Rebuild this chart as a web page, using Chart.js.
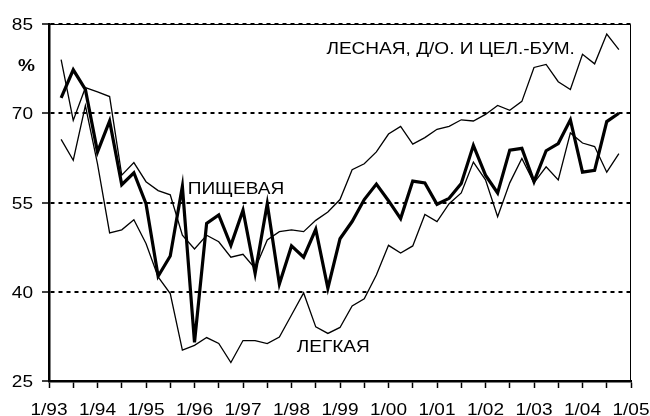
<!DOCTYPE html>
<html>
<head>
<meta charset="utf-8">
<script src="https://cdn.jsdelivr.net/npm/chart.js@4"></script>
<style>
  html, body { margin: 0; padding: 0; background: #fff; overflow: hidden; }
  canvas { display: block; }
</style>
</head>
<body>
<canvas id="chart" width="650" height="416"></canvas>
<script>
// quarterly values, first point one quarter after 1/93
var food = [72.6, 77.3, 74.0, 63.5, 68.7, 58.0, 60.0, 54.8, 42.6, 46.0, 57.7, 31.5,
  51.5, 52.9, 47.8, 53.7, 43.1, 54.8, 41.3, 47.7, 45.8, 50.5, 40.6, 48.9,
  51.8, 55.5, 58.1, 55.3, 52.3, 58.6, 58.3, 54.7, 55.7, 58.2, 64.6, 59.6,
  56.6, 63.8, 64.1, 58.5, 63.7, 64.9, 68.9, 60.1, 60.4, 68.6, 70.0];
var forest = [79.0, 68.8, 74.3, 73.6, 72.8, 59.6, 61.7, 58.5, 57.0, 56.3, 49.5, 47.2,
  49.5, 48.4, 45.8, 46.3, 43.9, 48.7, 50.1, 50.4, 50.1, 52.0, 53.4, 55.5,
  60.5, 61.5, 63.5, 66.5, 67.8, 64.8, 65.9, 67.3, 67.8, 68.9, 68.7, 69.8,
  71.3, 70.5, 72.0, 77.7, 78.2, 75.3, 74.0, 79.9, 78.3, 83.3, 80.7];
var light = [65.6, 62.1, 71.3, 61.5, 49.9, 50.4, 52.1, 48.1, 42.5, 39.7, 30.2, 31.0,
  32.3, 31.3, 28.1, 31.8, 31.8, 31.3, 32.4, 36.1, 39.8, 34.1, 33.0, 34.0,
  37.6, 38.8, 42.8, 47.8, 46.5, 47.7, 53.0, 51.8, 54.8, 56.6, 61.8, 58.8,
  52.6, 58.3, 62.4, 58.3, 61.0, 58.8, 66.7, 65.0, 64.4, 60.1, 63.2];
var yearLabels = ["1/93", "1/94", "1/95", "1/96", "1/97", "1/98", "1/99",
  "1/00", "1/01", "1/02", "1/03", "1/04", "1/05"];
var yTicks = [25, 40, 55, 70, 85];

var FONT = "'Liberation Sans', Arial, sans-serif";
var STRETCH = 1.12; // the original text is a bit wider than plain Arial

function toPoints(arr) {
  return arr.map(function (v, i) { return { x: i + 1, y: v }; });
}

function txt(ctx, s, x, y, align, bold) {
  ctx.save();
  ctx.font = (bold ? "bold " : "") + "17px " + FONT;
  ctx.fillStyle = "#000";
  ctx.textBaseline = "alphabetic";
  var w = ctx.measureText(s).width * STRETCH;
  if (align === "center") x -= w / 2;
  if (align === "right") x -= w;
  ctx.translate(x, y);
  ctx.scale(STRETCH, 1);
  ctx.fillText(s, 0, 0);
  ctx.restore();
}

// frame, tick labels and series names
var labelsPlugin = {
  id: "labels",
  afterDraw: function (chart) {
    var ctx = chart.ctx;
    var a = chart.chartArea;
    var xs = chart.scales.x, ys = chart.scales.y;
    ctx.save();
    ctx.strokeStyle = "#000";
    ctx.lineWidth = 1;
    ctx.beginPath();
    ctx.moveTo(a.left, a.top + 0.5);
    ctx.lineTo(a.right - 0.5, a.top + 0.5);
    ctx.lineTo(a.right - 0.5, a.bottom);
    ctx.stroke();
    ctx.restore();

    ys.ticks.forEach(function (t) {
      txt(ctx, String(t.value), a.left - 16, ys.getPixelForValue(t.value) + 6.2, "right");
    });
    xs.ticks.forEach(function (t) {
      if (t.value % 4 === 0) {
        txt(ctx, yearLabels[t.value / 4], xs.getPixelForValue(t.value), 415, "center");
      }
    });

    txt(ctx, "ЛЕСНАЯ, Д/О. И ЦЕЛ.-БУМ.", xs.getPixelForValue(22.88), ys.getPixelForValue(80.0), "left");
    txt(ctx, "ПИЩЕВАЯ", xs.getPixelForValue(11.44), ys.getPixelForValue(56.4), "left");
    txt(ctx, "ЛЕГКАЯ", xs.getPixelForValue(20.43), ys.getPixelForValue(29.9), "left");
    txt(ctx, "%", a.left - 31, ys.getPixelForValue(78.3) + 7.5, "left", true);
  }
};

new Chart(document.getElementById("chart"), {
  type: "line",
  data: {
    datasets: [
      { label: "ПИЩЕВАЯ", data: toPoints(food), borderColor: "#000", borderWidth: 3.2 },
      { label: "ЛЕСНАЯ, Д/О. И ЦЕЛ.-БУМ.", data: toPoints(forest), borderColor: "#000", borderWidth: 1.3 },
      { label: "ЛЕГКАЯ", data: toPoints(light), borderColor: "#000", borderWidth: 1.3 }
    ]
  },
  options: {
    responsive: false,
    animation: false,
    layout: { padding: { top: 24, right: 19, left: 0, bottom: 0 } },
    elements: {
      point: { radius: 0 },
      line: { tension: 0, borderJoinStyle: "miter" }
    },
    plugins: {
      legend: { display: false },
      tooltip: { enabled: false }
    },
    scales: {
      x: {
        type: "linear",
        min: 0,
        max: 48,
        afterFit: function (s) { s.height = 35; },
        afterBuildTicks: function (s) {
          var t = [];
          for (var q = 0; q <= 48; q += 2) t.push({ value: q });
          s.ticks = t;
        },
        ticks: { display: false, autoSkip: false },
        grid: {
          drawOnChartArea: false,
          drawTicks: true,
          tickLength: 7,
          tickColor: "#000",
          tickWidth: 1.5
        },
        border: { display: true, color: "#000", width: 2.5 }
      },
      y: {
        min: 25,
        max: 85,
        afterFit: function (s) { s.width = 49; },
        afterBuildTicks: function (s) {
          s.ticks = yTicks.map(function (v) { return { value: v }; });
        },
        ticks: { display: false },
        grid: {
          color: "#000",
          lineWidth: 2,
          drawTicks: true,
          tickLength: 7,
          tickColor: "#000",
          tickWidth: 1.5
        },
        border: { display: true, color: "#000", width: 2.5, dash: [4, 4] }
      }
    }
  },
  plugins: [labelsPlugin]
});
</script>
</body>
</html>
